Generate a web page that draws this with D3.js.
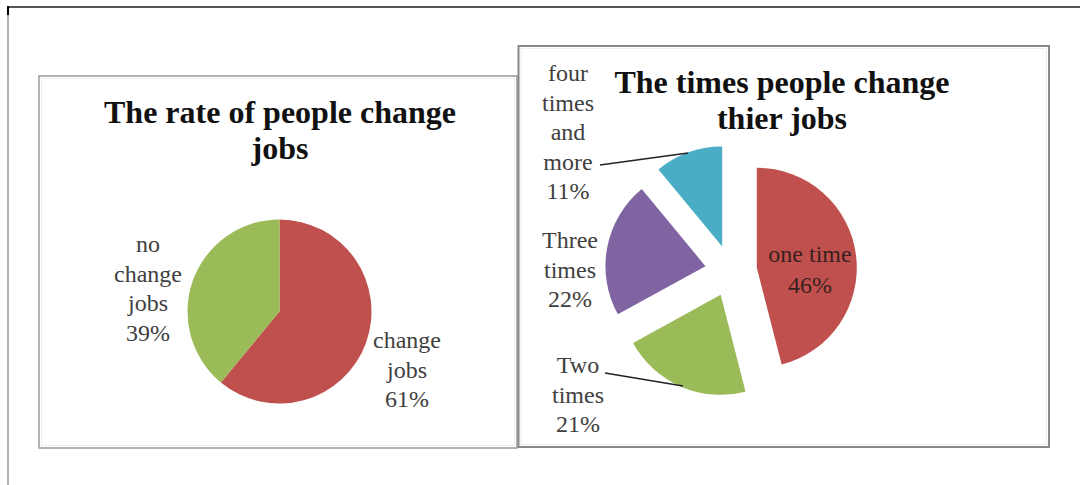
<!DOCTYPE html>
<html>
<head>
<meta charset="utf-8">
<script src="https://cdn.jsdelivr.net/npm/d3@7"></script>
<style>
  html, body { margin: 0; padding: 0; background: #fff; }
  svg { display: block; }
  text { font-family: "Liberation Serif", "Times New Roman", serif; }
</style>
</head>
<body>
<svg id="chart" width="1080" height="485"></svg>
<script>
// ---------- data ----------
const rateCategories = ["change jobs", "no change jobs"];
const rateValues = [61, 39];
const rateColors = ["#C0504D", "#9BBB59"];
const rateTitle = ["The rate of people change", "jobs"];

const timesCategories = ["one time", "Two times", "Three times", "four times and more"];
const timesValues = [46, 21, 22, 11];
const timesColors = ["#C0504D", "#9BBB59", "#8064A2", "#4BACC6"];
const timesTitle = ["The times people change", "thier jobs"];

// ---------- drawing ----------
const svg = d3.select("#chart");

// outer frame
svg.append("line").attr("x1", 8).attr("y1", 7).attr("x2", 1080).attr("y2", 7)
  .attr("stroke", "#555").attr("stroke-width", 2);
svg.append("line").attr("x1", 8).attr("y1", 6).attr("x2", 8).attr("y2", 485)
  .attr("stroke", "#999").attr("stroke-width", 1.5);
svg.append("line").attr("x1", 8).attr("y1", 6).attr("x2", 8).attr("y2", 15)
  .attr("stroke", "#000").attr("stroke-width", 2);

// ---- left chart ----
const left = svg.append("g");
left.append("rect").attr("x", 39).attr("y", 76).attr("width", 478).attr("height", 372)
  .attr("fill", "#fff").attr("stroke", "#999").attr("stroke-width", 1.5);
left.append("rect").attr("x", 41.5).attr("y", 78.5).attr("width", 473).attr("height", 367)
  .attr("fill", "none").attr("stroke", "#eee").attr("stroke-width", 1);

const lt = left.append("text").attr("text-anchor", "middle")
  .attr("font-weight", "bold").attr("font-size", 32).attr("fill", "#111");
rateTitle.forEach((t, i) => lt.append("tspan").attr("x", 280).attr("y", 123 + i * 36).text(t));

const pieL = d3.pie().sort(null).value(d => d)(rateValues);
const arcL = d3.arc().innerRadius(0).outerRadius(92);
const gL = left.append("g").attr("transform", "translate(279.5,311.5)");
gL.selectAll("path").data(pieL).join("path")
  .attr("d", arcL).attr("fill", (d, i) => rateColors[i]);

function multiline(g, lines, x, y0, step, anchor, fill) {
  const t = g.append("text").attr("text-anchor", anchor || "middle")
    .attr("font-size", 24).attr("fill", fill || "#404040");
  lines.forEach((l, i) => t.append("tspan").attr("x", x).attr("y", y0 + i * step).text(l));
  return t;
}
multiline(left, ["no", "change", "jobs", rateValues[1] + "%"], 148, 252, 29.5);
multiline(left, ["change", "jobs", rateValues[0] + "%"], 407, 348, 29.5);

// ---- right chart ----
const right = svg.append("g");
right.append("rect").attr("x", 518.5).attr("y", 46).attr("width", 530.5).attr("height", 401)
  .attr("fill", "#fff").attr("stroke", "#888").attr("stroke-width", 2);
right.append("rect").attr("x", 521).attr("y", 48.5).attr("width", 525.5).attr("height", 396)
  .attr("fill", "none").attr("stroke", "#eee").attr("stroke-width", 1);

const rt = right.append("text").attr("text-anchor", "middle")
  .attr("font-weight", "bold").attr("font-size", 32).attr("fill", "#111");
timesTitle.forEach((t, i) => rt.append("tspan").attr("x", 782).attr("y", 93 + i * 36).text(t));

const R = 100, explode = 26;
const pieR = d3.pie().sort(null).value(d => d)(timesValues);
const arcR = d3.arc().innerRadius(0).outerRadius(R);
const gR = right.append("g").attr("transform", "translate(731,271)");
gR.selectAll("path").data(pieR).join("path")
  .attr("d", arcR)
  .attr("fill", (d, i) => timesColors[i])
  .attr("transform", d => {
    const a = (d.startAngle + d.endAngle) / 2;
    return `translate(${explode * Math.sin(a)},${-explode * Math.cos(a)})`;
  });

// leader lines
right.append("line").attr("x1", 600).attr("y1", 165).attr("x2", 688).attr("y2", 153)
  .attr("stroke", "#222").attr("stroke-width", 1.3);
right.append("line").attr("x1", 605).attr("y1", 373).attr("x2", 683).attr("y2", 386)
  .attr("stroke", "#222").attr("stroke-width", 1.3);

// labels
multiline(right, ["one time", timesValues[0] + "%"], 810, 262, 31, "middle", "#3a2020");
multiline(right, ["Two", "times", timesValues[1] + "%"], 578, 373, 29.5);
multiline(right, ["Three", "times", timesValues[2] + "%"], 570, 248, 29.5);
multiline(right, ["four", "times", "and", "more", timesValues[3] + "%"], 568, 81, 29.5);
</script>
</body>
</html>
